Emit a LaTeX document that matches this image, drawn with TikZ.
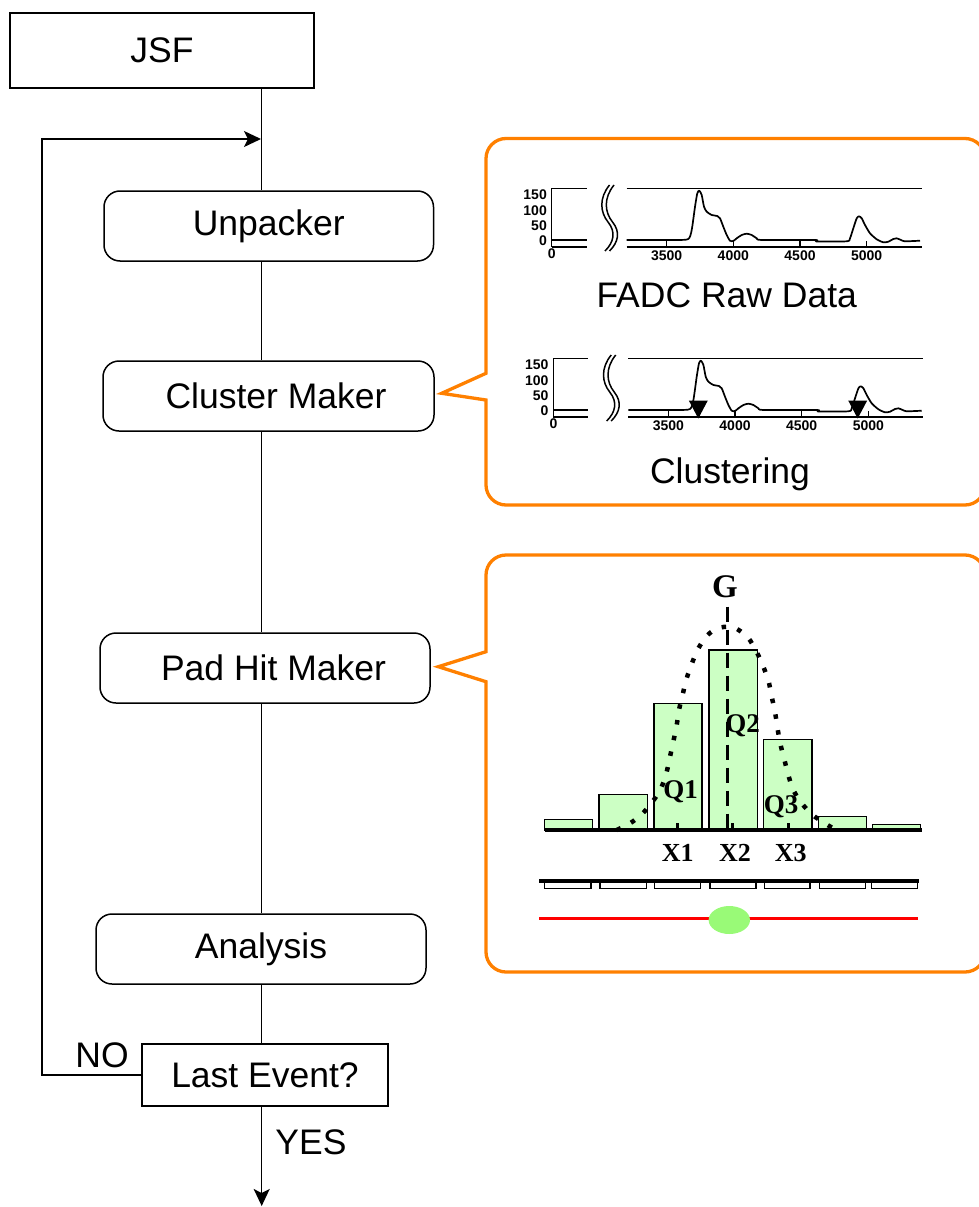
\documentclass[tikz,border=0pt]{standalone}
\usepackage{fontspec}
\setmainfont{Liberation Sans}
\newfontfamily\serifb{Liberation Serif}
\usetikzlibrary{arrows.meta}
\definecolor{calloutorange}{RGB}{255,128,0}
\definecolor{barfill}{RGB}{204,255,196}
\definecolor{dotgreen}{RGB}{153,250,119}
\definecolor{trackred}{RGB}{255,0,0}

\newcommand{\fadcplot}[1]{%
  \draw[axisline] (551.7,188.3) -- (551.7,246.7);
  \draw[axisline] (551.7,188.3) -- (586.7,188.3);
  \draw[axisline] (551.7,240) -- (586.7,240);
  \draw[axisthick] (551.7,246.7) -- (586.7,246.7);
  \node[ticklab, anchor=east] (#1y150) at (547,195) {150};
  \node[ticklab, anchor=east] (#1y100) at (547,210.5) {100};
  \node[ticklab, anchor=east] (#1y50) at (547,225.5) {50};
  \node[ticklab, anchor=east] (#1y0) at (547,240.5) {0};
  \node[ticklab] (#1x0) at (551.7,254) {0};
  \draw[axisline] (609.5,185) .. controls (599,198) and (600,212) .. (608,222) .. controls (616,232) and (614,242) .. (605,251);
  \draw[axisline] (614,185) .. controls (603.5,198) and (604.5,212) .. (612.5,222) .. controls (620.5,232) and (618.5,242) .. (609.5,251);
  \draw[axisline] (626.7,188.3) -- (921.7,188.3);
  \draw[axisthick] (626.7,246.7) -- (921.7,246.7);
  \foreach \xx/\lab in {666.7/3500, 733.3/4000, 800/4500, 866.7/5000} {
    \draw[axisline] (\xx,246.7) -- (\xx,240.5);
    \node[ticklab] (#1t\lab) at (\xx,255.5) {\lab};
  }
  \draw[trace] plot[smooth, tension=0.4] coordinates {
    (626.7,240) (675,240) (688.3,239) (691.7,230) (695,206.7) (697.3,193.3)
    (699.3,190.7) (701.7,195) (704,206.7) (706.7,211.7) (711.7,215) (717.3,216)
    (720,218.3) (723.3,226.7) (726.7,235) (730,240.7) (733.3,241) (736.7,238.3)
    (741.7,235) (746.7,233.7) (751.7,235) (756.7,238.3) (761.7,240) (815,240)
    (816.7,241.5) (846.7,241.3) (850,238.3) (853.3,228.3) (856.7,218.3) (859,216.3)
    (861.7,218.3) (865,225) (870,233.3) (876.7,239.3) (883.3,242.3) (888.3,241.7)
    (893.3,239) (896.7,238.3) (901,240) (905,241.3) (920,240.7)};
}

\begin{document}
\begin{tikzpicture}[x=1pt,y=-1pt,
  big/.style={font=\fontsize{35.5}{40}\selectfont},
  sqbox/.style={draw, line width=1.5pt, inner sep=0pt, big},
  roundbox/.style={draw, line width=1.5pt, inner sep=0pt, rounded corners=16pt, big},
  conn/.style={line width=1.5pt},
  tip/.style={-{Stealth[length=17pt,width=16pt,inset=4pt]}},
  callout/.style={draw=calloutorange, line width=3.3pt, line join=miter},
  axisline/.style={line width=1.5pt},
  axisthick/.style={line width=2.2pt},
  trace/.style={line width=1.7pt, line join=round},
  ticklab/.style={font=\bfseries\fontsize{14}{14}\selectfont, inner sep=0pt},
  serlab/.style={font=\serifb\bfseries\fontsize{26}{26}\selectfont, inner sep=0pt},
  bar/.style={draw, line width=1.5pt, fill=barfill},
  pad/.style={draw, line width=1.5pt, fill=white},
]
\useasboundingbox (0,0) rectangle (979,1207);

% ---------- flow chart ----------
\node[sqbox, minimum width=304pt, minimum height=75pt] (jsf) at (162,50.5) {JSF};
\node[roundbox, minimum width=329.5pt, minimum height=70pt] (unp) at (268.75,226) {Unpacker};
\node[roundbox, minimum width=331pt, minimum height=70pt] (clu) at (268.5,396) {\hspace*{15pt}Cluster Maker};
\node[roundbox, minimum width=330pt, minimum height=70pt] (pad) at (265,668) {\hspace*{17pt}Pad Hit Maker};
\node[roundbox, minimum width=330pt, minimum height=70pt] (ana) at (261,949) {Analysis};
\node[sqbox, minimum width=246pt, minimum height=62pt] (last) at (265,1075) {Last Event?};

\coordinate (col) at (261.7,0);
\coordinate (loopL) at (42,0);
\coordinate (merge) at (261,139);
\coordinate (exit) at (261.7,1206);

\draw[conn] (jsf.south -| col) -- (unp.north -| col);
\draw[conn] (unp.south -| col) -- (clu.north -| col);
\draw[conn] (clu.south -| col) -- (pad.north -| col);
\draw[conn] (pad.south -| col) -- (ana.north -| col);
\draw[conn] (ana.south -| col) -- (last.north -| col);
\draw[conn, tip] (last.south -| col) -- (exit);
\draw[conn, tip] (last.west) -- (last.west -| loopL) -- (loopL |- merge) -- (merge);

\node[big, inner sep=0pt] (no) at (102,1055) {NO};
\node[big, inner sep=0pt] (yes) at (311,1142) {YES};

% ---------- callouts ----------
\draw[callout] (486,373.3) -- (486,158.5) .. controls (486,147.5) and (495,138.5) .. (506,138.5)
  -- (965,138.5) .. controls (976,138.5) and (985,147.5) .. (985,158.5)
  -- (985,485) .. controls (985,496) and (976,505) .. (965,505)
  -- (506,505) .. controls (495,505) and (486,496) .. (486,485)
  -- (486,400) -- (441.7,393.3) -- cycle;

\draw[callout] (486,651.7) -- (486,575) .. controls (486,564) and (495,555) .. (506,555)
  -- (965,555) .. controls (976,555) and (985,564) .. (985,575)
  -- (985,952) .. controls (985,963) and (976,972) .. (965,972)
  -- (506,972) .. controls (495,972) and (486,963) .. (486,952)
  -- (486,681.7) -- (438.3,666.7) -- cycle;

% ---------- FADC plots ----------
\fadcplot{a}
\node[big, inner sep=0pt] (rawtitle) at (726.7,295) {FADC Raw Data};

\begin{scope}[shift={(1.7,170)}]
  \fadcplot{b}
\end{scope}
\fill (688.8,400.5) -- (707.8,400.5) -- (698.3,418.5) -- cycle;
\fill (848.2,400.5) -- (867.2,400.5) -- (857.7,418.5) -- cycle;
\node[big, inner sep=0pt] (clustitle) at (730,474) {Clustering};

% ---------- pad hit plot ----------
\draw[bar] (544.3,830) rectangle (592.7,819.3);
\draw[bar] (599,830) rectangle (647.3,794.3);
\draw[bar] (654,830) rectangle (702,703.3);
\draw[bar] (709,830) rectangle (757.3,650);
\draw[bar] (763.7,830) rectangle (812,739.3);
\draw[bar] (818.3,830) rectangle (866.7,816.7);
\draw[bar] (872.3,830) rectangle (920.7,824.3);
\draw[line width=4pt] (545,830) -- (921.7,830);
\foreach \xx in {677.7,732.7,788.3} { \draw[line width=3pt] (\xx,830) -- (\xx,822.5); }

\draw[line width=3pt, dash pattern=on 15pt off 8pt] (727.3,606.7) -- (727.3,828);

\draw[line width=4.5pt, dash pattern=on 4.5pt off 11.5pt] plot[smooth, tension=0.5] coordinates {
  (616.7,830) (631,822.7) (643.3,812.7) (653.3,800.7) (661.7,786.7) (666.7,771.7)
  (670,756.7) (673.3,741.7) (676.7,725) (679,710) (682.7,694.3) (686.7,678.3)
  (691.7,664) (698,649) (706.7,636) (716,629) (726.7,626.7) (737,629) (748.3,638)
  (756.7,652) (763.3,666.7) (768.3,680) (771.7,696.7) (775,712) (779.5,740)
  (784.3,759.3) (788.3,775) (793.3,790) (801.7,803.3) (812.7,815) (825,823.3) (838.3,831.7)};

\node[serlab, font=\serifb\bfseries\fontsize{33}{33}\selectfont] (G) at (725,586.7) {G};
\node[serlab, font=\serifb\bfseries\fontsize{27}{27}\selectfont] (Q1) at (680.7,792) {Q1};
\node[serlab, font=\serifb\bfseries\fontsize{27}{27}\selectfont] (Q2) at (742.7,725.5) {Q2};
\node[serlab, font=\serifb\bfseries\fontsize{27}{27}\selectfont] (Q3) at (781,807) {Q3};
\node[serlab] (X1) at (677.7,853.3) {X1};
\node[serlab] (X2) at (735,853.3) {X2};
\node[serlab] (X3) at (790.7,853.3) {X3};

\foreach \xa/\xb in {544.3/591, 600/646.7, 654.3/700.3, 710/756, 764.3/810, 819.3/865.7, 871.7/917.3} {
  \draw[pad] (\xa,881) rectangle (\xb,888.3);
}
\draw[line width=4pt] (539.3,881) -- (919.3,881);

\draw[draw=trackred, line width=3pt] (539.3,918.3) -- (917.7,918.3);
\fill[dotgreen] (729.3,920) ellipse [x radius=20.7pt, y radius=14pt];
\end{tikzpicture}
\end{document}
